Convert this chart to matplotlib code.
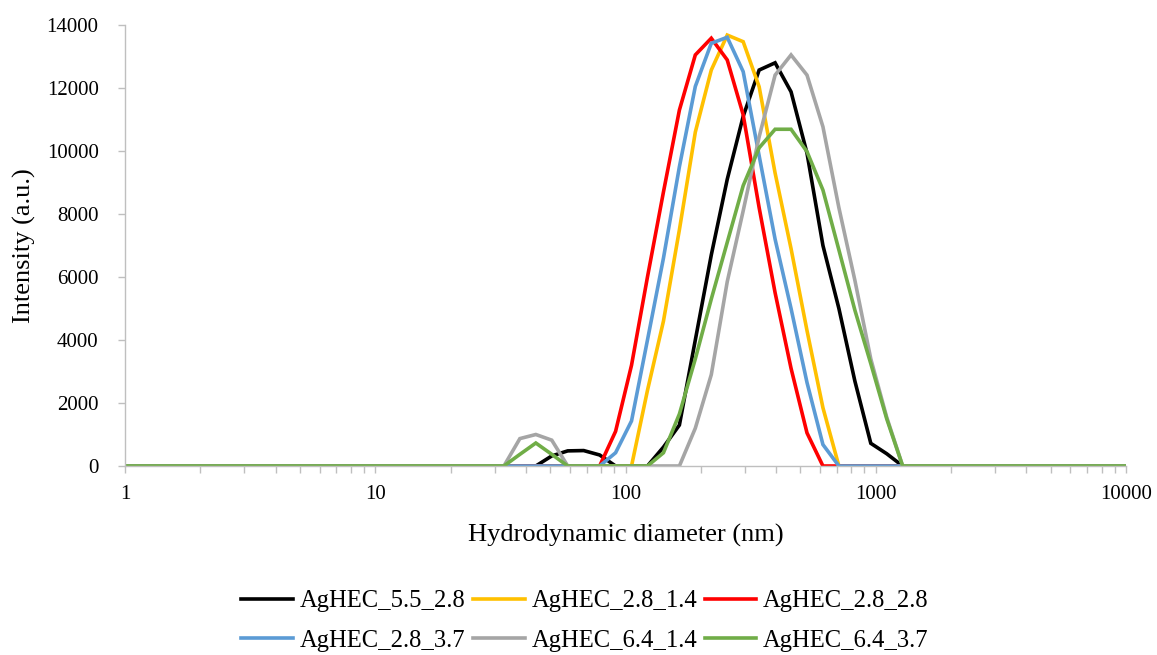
import matplotlib
matplotlib.use("Agg")
import matplotlib.pyplot as plt
from matplotlib.ticker import LogLocator, FixedLocator, NullFormatter

plt.rcParams['font.family'] = ['Liberation Serif', 'DejaVu Serif']

# Size classes (nm) of the DLS intensity distribution
sizes = [0.4000, 0.4632, 0.5365, 0.6213, 0.7195, 0.8332, 0.9649, 1.117, 1.294, 1.499,
         1.736, 2.010, 2.328, 2.696, 3.122, 3.615, 4.187, 4.849, 5.615, 6.503,
         7.531, 8.721, 10.10, 11.70, 13.54, 15.69, 18.17, 21.04, 24.36, 28.21,
         32.67, 37.84, 43.82, 50.75, 58.77, 68.06, 78.82, 91.28, 105.7, 122.4,
         141.8, 164.2, 190.1, 220.2, 255.0, 295.3, 342.0, 396.1, 458.7, 531.2,
         615.1, 712.4, 825.0, 955.4, 1106, 1281, 1484, 1718, 1990, 2305,
         2669, 3091, 3580, 4145, 4801, 5560, 6439, 7456, 8635, 10000]

Z30 = [0] * 30  # 0.4 nm - 28.21 nm: no signal
Z14 = [0] * 14  # 1484 nm - 10000 nm: no signal

#                 32.67 37.84 43.82 50.75 58.77 68.06 78.82 91.28 105.7 122.4
#                 141.8 164.2 190.1 220.2 255.0 295.3 342.0 396.1 458.7 531.2
#                 615.1 712.4 825.0 955.4 1106  1281
agHEC_5_5_2_8 = Z30 + [0, 0, 0, 320, 480, 490, 350, 0, 0, 0,
                       600, 1300, 4000, 6700, 9100, 11100, 12570, 12800, 11880, 9930,
                       7000, 5000, 2700, 720, 390, 0] + Z14
agHEC_2_8_1_4 = Z30 + [0, 0, 0, 0, 0, 0, 0, 0, 0, 2400,
                       4600, 7500, 10600, 12570, 13680, 13470, 12040, 9300, 6900, 4300,
                       1850, 0, 0, 0, 0, 0] + Z14
agHEC_2_8_2_8 = Z30 + [0, 0, 0, 0, 0, 0, 0, 1100, 3200, 6000,
                       8700, 11300, 13050, 13580, 12890, 11150, 8200, 5500, 3100, 1050,
                       0, 0, 0, 0, 0, 0] + Z14
agHEC_2_8_3_7 = Z30 + [0, 0, 0, 0, 0, 0, 0, 420, 1430, 4000,
                       6600, 9500, 12050, 13420, 13610, 12520, 9850, 7200, 5000, 2650,
                       680, 0, 0, 0, 0, 0] + Z14
agHEC_6_4_1_4 = Z30 + [0, 870, 1000, 820, 0, 0, 0, 0, 0, 0,
                       0, 0, 1200, 2900, 5850, 8100, 10450, 12410, 13050, 12410,
                       10770, 8200, 5900, 3400, 1550, 0] + Z14
agHEC_6_4_3_7 = Z30 + [0, 370, 730, 370, 0, 0, 0, 0, 0, 0,
                       420, 1650, 3400, 5300, 7100, 8900, 10100, 10690, 10690, 9980,
                       8760, 6860, 4950, 3250, 1500, 0] + Z14

series_labels = ["AgHEC_5.5_2.8", "AgHEC_2.8_1.4", "AgHEC_2.8_2.8",
                 "AgHEC_2.8_3.7", "AgHEC_6.4_1.4", "AgHEC_6.4_3.7"]
series_values = [agHEC_5_5_2_8, agHEC_2_8_1_4, agHEC_2_8_2_8,
                 agHEC_2_8_3_7, agHEC_6_4_1_4, agHEC_6_4_3_7]
series_colors = ["#000000", "#FFC000", "#FF0000", "#5B9BD5", "#A5A5A5", "#70AD47"]

y_ticks = [0, 2000, 4000, 6000, 8000, 10000, 12000, 14000]
x_ticks = [1, 10, 100, 1000, 10000]

fig = plt.figure(figsize=(11.57, 6.55), dpi=100)
ax = fig.add_axes([125 / 1157, 1 - 466 / 655, (1126 - 125) / 1157, (466 - 25) / 655])

handles = []
for lab, vals, col in zip(series_labels, series_values, series_colors):
    h, = ax.plot(sizes, vals, color=col, lw=2.6, label=lab, solid_joinstyle='miter')
    handles.append(h)

ax.set_xscale('log')
ax.set_xlim(1, 10000)
ax.set_ylim(0, 14000)
ax.xaxis.set_major_locator(FixedLocator(x_ticks))
ax.set_xticklabels([str(t) for t in x_ticks])
ax.xaxis.set_minor_locator(LogLocator(base=10, subs=range(2, 10), numticks=20))
ax.xaxis.set_minor_formatter(NullFormatter())
ax.set_yticks(y_ticks)
ax.set_yticklabels([str(t) for t in y_ticks])

grey = "#BFBFBF"
for s in ['top', 'right']:
    ax.spines[s].set_visible(False)
for s in ['left', 'bottom']:
    ax.spines[s].set_color(grey)
    ax.spines[s].set_linewidth(1.0)

ax.tick_params(axis='y', which='major', direction='out', length=5, width=1,
               color=grey, labelsize=15, pad=14, labelcolor='#000000')
ax.tick_params(axis='x', which='major', direction='out', length=5, width=1,
               color=grey, labelsize=15, pad=9, labelcolor='#000000')
ax.tick_params(axis='x', which='minor', direction='out', length=5, width=1, color=grey)

ax.set_xlabel("Hydrodynamic diameter (nm)", fontsize=19, labelpad=14)
ax.set_ylabel("Intensity (a.u.)", fontsize=19, labelpad=8)

order = [0, 3, 1, 4, 2, 5]
fig.legend([handles[i] for i in order], [series_labels[i] for i in order],
           loc='center', bbox_to_anchor=(585 / 1157, 1 - 621 / 655), ncol=3,
           frameon=False, fontsize=17.7, handlelength=2.1, handletextpad=0.28,
           columnspacing=0.3, labelspacing=0.72)

fig.savefig("out.png", dpi=100)
